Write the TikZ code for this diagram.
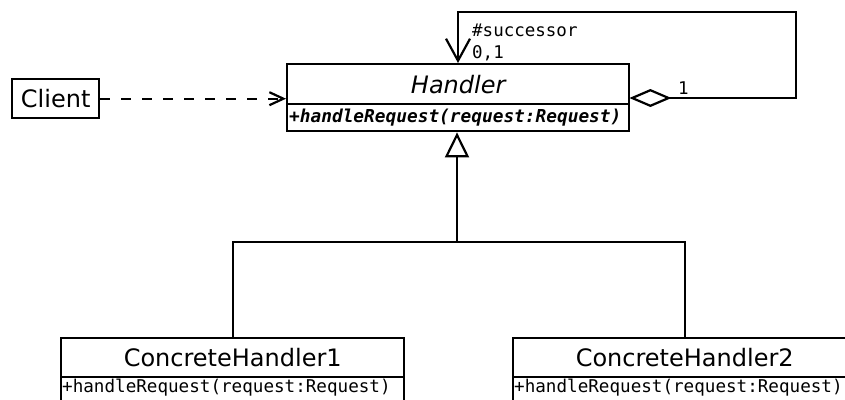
\documentclass[tikz,border=0pt]{standalone}
\usepackage{fontspec}
\setmainfont{DejaVu Sans}
\newfontfamily\monof{DejaVu Sans Mono}
\usetikzlibrary{arrows.meta}
\begin{document}
\begin{tikzpicture}[x=1pt,y=-1pt,
  box/.style={draw,line width=2.4pt,rectangle,inner sep=0pt,anchor=north west},
  clsname/.style={font=\fontsize{24}{26}\selectfont},
  mth/.style={font=\monof\fontsize{17.6}{20}\selectfont,anchor=west,inner sep=0pt},
  lbl/.style={font=\monof\fontsize{17.5}{19}\selectfont,anchor=west,inner sep=0pt},
  link/.style={line width=2.4pt}
]
\useasboundingbox (0,0) rectangle (845,399);
\clip (0,0) rectangle (845,399);

% Client
\node[box,minimum width=87pt,minimum height=39pt] (client) at (11,78) {};
\node[clsname] (clientt) at (client.center) {Client};

% Handler (abstract)
\node[box,minimum width=342pt,minimum height=40pt] (hname) at (286,63) {};
\node[box,minimum width=342pt,minimum height=27pt] (hmeth) at (286,103) {};
\node[font=\fontsize{24}{26}\selectfont\itshape] (htitle) at (hname.center) {Handler};
\node[mth,font=\monof\bfseries\itshape\fontsize{17.8}{20}\selectfont] (hop) at ([xshift=3pt]hmeth.west) {+handleRequest(request:Request)};

% Concrete handlers
\node[box,minimum width=343pt,minimum height=39pt] (c1name) at (60,337) {};
\node[box,minimum width=343pt,minimum height=40pt] (c1meth) at (60,376) {};
\node[clsname] (c1title) at (c1name.center) {ConcreteHandler1};
\node[mth] (c1op) at ([xshift=2pt,yshift=-12pt]c1meth.north west) {+handleRequest(request:Request)};

\node[box,minimum width=343pt,minimum height=39pt] (c2name) at (512,337) {};
\node[box,minimum width=343pt,minimum height=40pt] (c2meth) at (512,376) {};
\node[clsname] (c2title) at (c2name.center) {ConcreteHandler2};
\node[mth] (c2op) at ([xshift=2pt,yshift=-12pt]c2meth.north west) {+handleRequest(request:Request)};

% Dependency Client -> Handler
\draw[link,dash pattern=on 10pt off 11pt,-{Straight Barb[length=14pt,width=13pt,line width=2.2pt]}]
  (client.east) -- (client.east -| hname.west);

% Self association (successor)
\coordinate (loopR) at (796,98);
\coordinate (loopT) at (458,12);
\draw[link,{Diamond[open,length=42pt,width=18pt,line width=2.2pt]}-{Straight Barb[length=22pt,width=24pt,line width=2.2pt]}]
  ([xshift=-1pt]loopR -| hname.east) -- (loopR) |- (loopT) -- (loopT |- hname.north);
\node[lbl] (succ) at (472,30) {\#successor};
\node[lbl] (mult01) at (472,53) {0,1};
\node[lbl] (mult1) at (678,88) {1};

% Generalisation
\coordinate (junc) at (457,242);
\draw[link,-{Triangle[open,length=25pt,width=24pt,line width=2.2pt,fill=white]}]
  (junc) -- (junc |- hmeth.south);
\draw[link] (c1name.north) |- (junc -| c2name.north) -- (c2name.north);
\end{tikzpicture}
\end{document}
